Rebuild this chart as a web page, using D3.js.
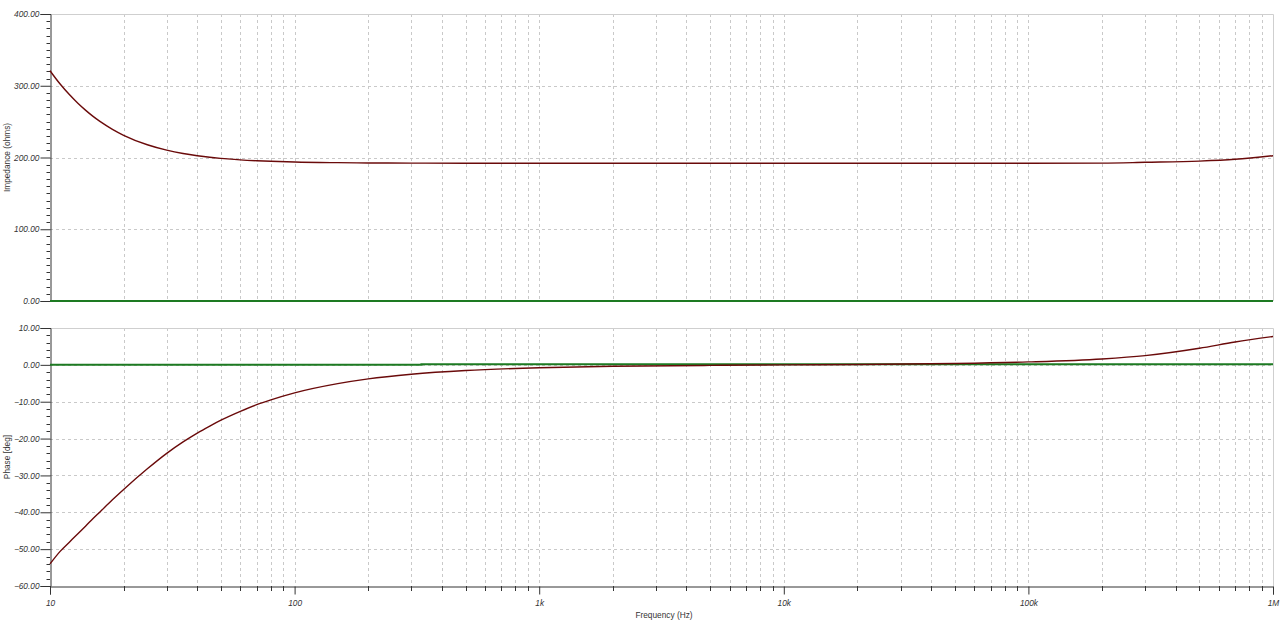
<!DOCTYPE html>
<html>
<head>
<meta charset="utf-8">
<script src="https://cdn.jsdelivr.net/npm/d3@7"></script>
<style>
  html, body { margin: 0; padding: 0; background: #fff; }
  svg { display: block; }
  text { font-family: "Liberation Sans", Arial, sans-serif; fill: #333; }
</style>
</head>
<body>
<svg id="chart" width="1280" height="627"></svg>
<script>
// ---- Data ----
const freqs      = [10, 11, 12, 13, 14, 15, 16, 18, 20, 25, 30, 35, 40, 45, 50, 60, 70, 80, 100, 150, 200, 300, 500, 1000, 2000, 5000, 10000, 20000, 50000, 100000, 200000, 300000, 500000, 700000, 1000000];
const impedance  = [321, 302.4, 287.7, 275.6, 265.7, 257.3, 250.3, 239.3, 231.0, 217.8, 210.3, 205.6, 202.5, 200.3, 198.8, 196.7, 195.5, 194.7, 193.7, 192.8, 192.4, 192.2, 192.0, 192.0, 192.0, 192.0, 192.0, 192.0, 192.0, 192.0, 192.2, 193.3, 195.0, 197.5, 202.5];
const phase      = [-54, -50.6, -48.1, -45.8, -43.7, -41.7, -39.9, -36.6, -33.8, -28.2, -24.0, -20.9, -18.5, -16.6, -15.0, -12.6, -10.8, -9.5, -7.6, -5.1, -3.8, -2.55, -1.53, -0.77, -0.38, -0.15, 0.0, 0.11, 0.38, 0.8, 1.6, 2.5, 4.5, 6.2, 7.7];
const refFreqs     = [10, 330, 330, 1000000];
const refImpedance = [0, 0, 0, 0];
const refPhase     = [0, 0, 0.15, 0.15];

const impTicks   = [0, 100, 200, 300, 400];
const phaseTicks = [10, 0, -10, -20, -30, -40, -50, -60];
const freqTicks  = [10, 100, 1000, 10000, 100000, 1000000];
const freqLabels = ["10", "100", "1k", "10k", "100k", "1M"];

// ---- Layout ----
const svg = d3.select("#chart");
const left = 50, right = 1273;
const top1 = 14, bot1 = 301;
const top2 = 328, bot2 = 586;

const x = d3.scaleLog().domain([10, 1e6]).range([left, right]);
const y1 = d3.scaleLinear().domain([0, 400]).range([bot1, top1]);
const y2 = d3.scaleLinear().domain([-60, 10]).range([bot2, top2]);

const gridColor = "#c9c9c9";
const axisColor = "#333";

// minor log ticks
const minorFreqs = [];
for (let d = 10; d < 1e6; d *= 10) for (let m = 2; m <= 9; m++) minorFreqs.push(d * m);
const allFreqs = freqTicks.concat(minorFreqs);

function panel(y, top, bot, majorTicks, minorStep, title, data, refData) {
  const g = svg.append("g");
  // vertical grid
  g.selectAll(".vg").data(allFreqs.filter(f => f > 10 && f < 1e6)).join("line")
    .attr("x1", d => Math.round(x(d)) + 0.5).attr("x2", d => Math.round(x(d)) + 0.5)
    .attr("y1", top).attr("y2", bot)
    .attr("stroke", gridColor).attr("stroke-width", 1).attr("stroke-dasharray", "3,3");
  // horizontal grid
  const dom = y.domain();
  g.selectAll(".hg").data(majorTicks.filter(v => v > dom[0] && v < dom[1])).join("line")
    .attr("x1", left).attr("x2", right)
    .attr("y1", d => Math.round(y(d)) + 0.5).attr("y2", d => Math.round(y(d)) + 0.5)
    .attr("stroke", gridColor).attr("stroke-width", 1).attr("stroke-dasharray", "3,3");
  // frame (top, right)
  g.append("path")
    .attr("d", `M${left},${top + 0.5}H${right + 0.5}V${bot}`)
    .attr("fill", "none").attr("stroke", "#cfcfcf").attr("stroke-width", 1);

  // y axis with major & minor ticks
  const yAxis = d3.axisLeft(y).tickValues(majorTicks).tickSize(10).tickPadding(1)
    .tickFormat(d3.format(".2f"));
  const ga = g.append("g").attr("transform", `translate(${left + 0.5},0)`).call(yAxis);
  ga.select(".domain").attr("stroke", axisColor);
  ga.selectAll(".tick line").attr("stroke", axisColor);
  ga.selectAll(".tick text").attr("font-size", 8.3).attr("font-style", "italic")
    .attr("font-family", "Liberation Sans, Arial, sans-serif").attr("fill", "#333");
  const minors = d3.range(dom[0], dom[1] + 1e-9, minorStep).filter(v => !majorTicks.includes(Math.round(v * 1000) / 1000));
  g.selectAll(".my").data(minors).join("line")
    .attr("x1", left - 3.5).attr("x2", left)
    .attr("y1", d => Math.round(y(d)) + 0.5).attr("y2", d => Math.round(y(d)) + 0.5)
    .attr("stroke", axisColor).attr("stroke-width", 1);

  // title
  g.append("text")
    .attr("transform", `translate(10,${(top + bot) / 2}) rotate(-90)`)
    .attr("text-anchor", "middle").attr("font-size", 8.3).text(title);

  const line = d3.line().x(d => x(d[0])).y(d => y(d[1])).curve(d3.curveMonotoneX);
  // reference (green)
  g.append("path").datum(refData).attr("d", d3.line().x(d => x(d[0])).y(d => y(d[1])))
    .attr("fill", "none").attr("stroke", "#1d7a22").attr("stroke-width", 2);
  // main curve
  g.append("path").datum(data).attr("d", line)
    .attr("fill", "none").attr("stroke", "#6a0a0a").attr("stroke-width", 1.4)
    .attr("stroke-linejoin", "round");
  return g;
}

panel(y1, top1, bot1, impTicks, 10, "Impedance (ohms)",
  d3.zip(freqs, impedance), d3.zip(refFreqs, refImpedance));
panel(y2, top2, bot2, phaseTicks, 2, "Phase [deg]",
  d3.zip(freqs, phase), d3.zip(refFreqs, refPhase));

// bottom x axis
const xAxis = d3.axisBottom(x).tickValues(freqTicks).tickSize(8).tickPadding(6)
  .tickFormat((d, i) => freqLabels[i]);
const gx = svg.append("g").attr("transform", `translate(0,${bot2 + 0.5})`).call(xAxis);
gx.select(".domain").attr("stroke", axisColor);
gx.selectAll(".tick line").attr("stroke", axisColor);
gx.selectAll(".tick text").attr("font-size", 8.3).attr("font-style", "italic")
  .attr("font-family", "Liberation Sans, Arial, sans-serif").attr("fill", "#333");
svg.append("g").selectAll("line").data(minorFreqs).join("line")
  .attr("x1", d => Math.round(x(d)) + 0.5).attr("x2", d => Math.round(x(d)) + 0.5)
  .attr("y1", bot2).attr("y2", bot2 + 5)
  .attr("stroke", axisColor).attr("stroke-width", 1);

svg.append("text").attr("x", 664).attr("y", 618).attr("text-anchor", "middle")
  .attr("font-size", 8.3).text("Frequency (Hz)");
</script>
</body>
</html>
